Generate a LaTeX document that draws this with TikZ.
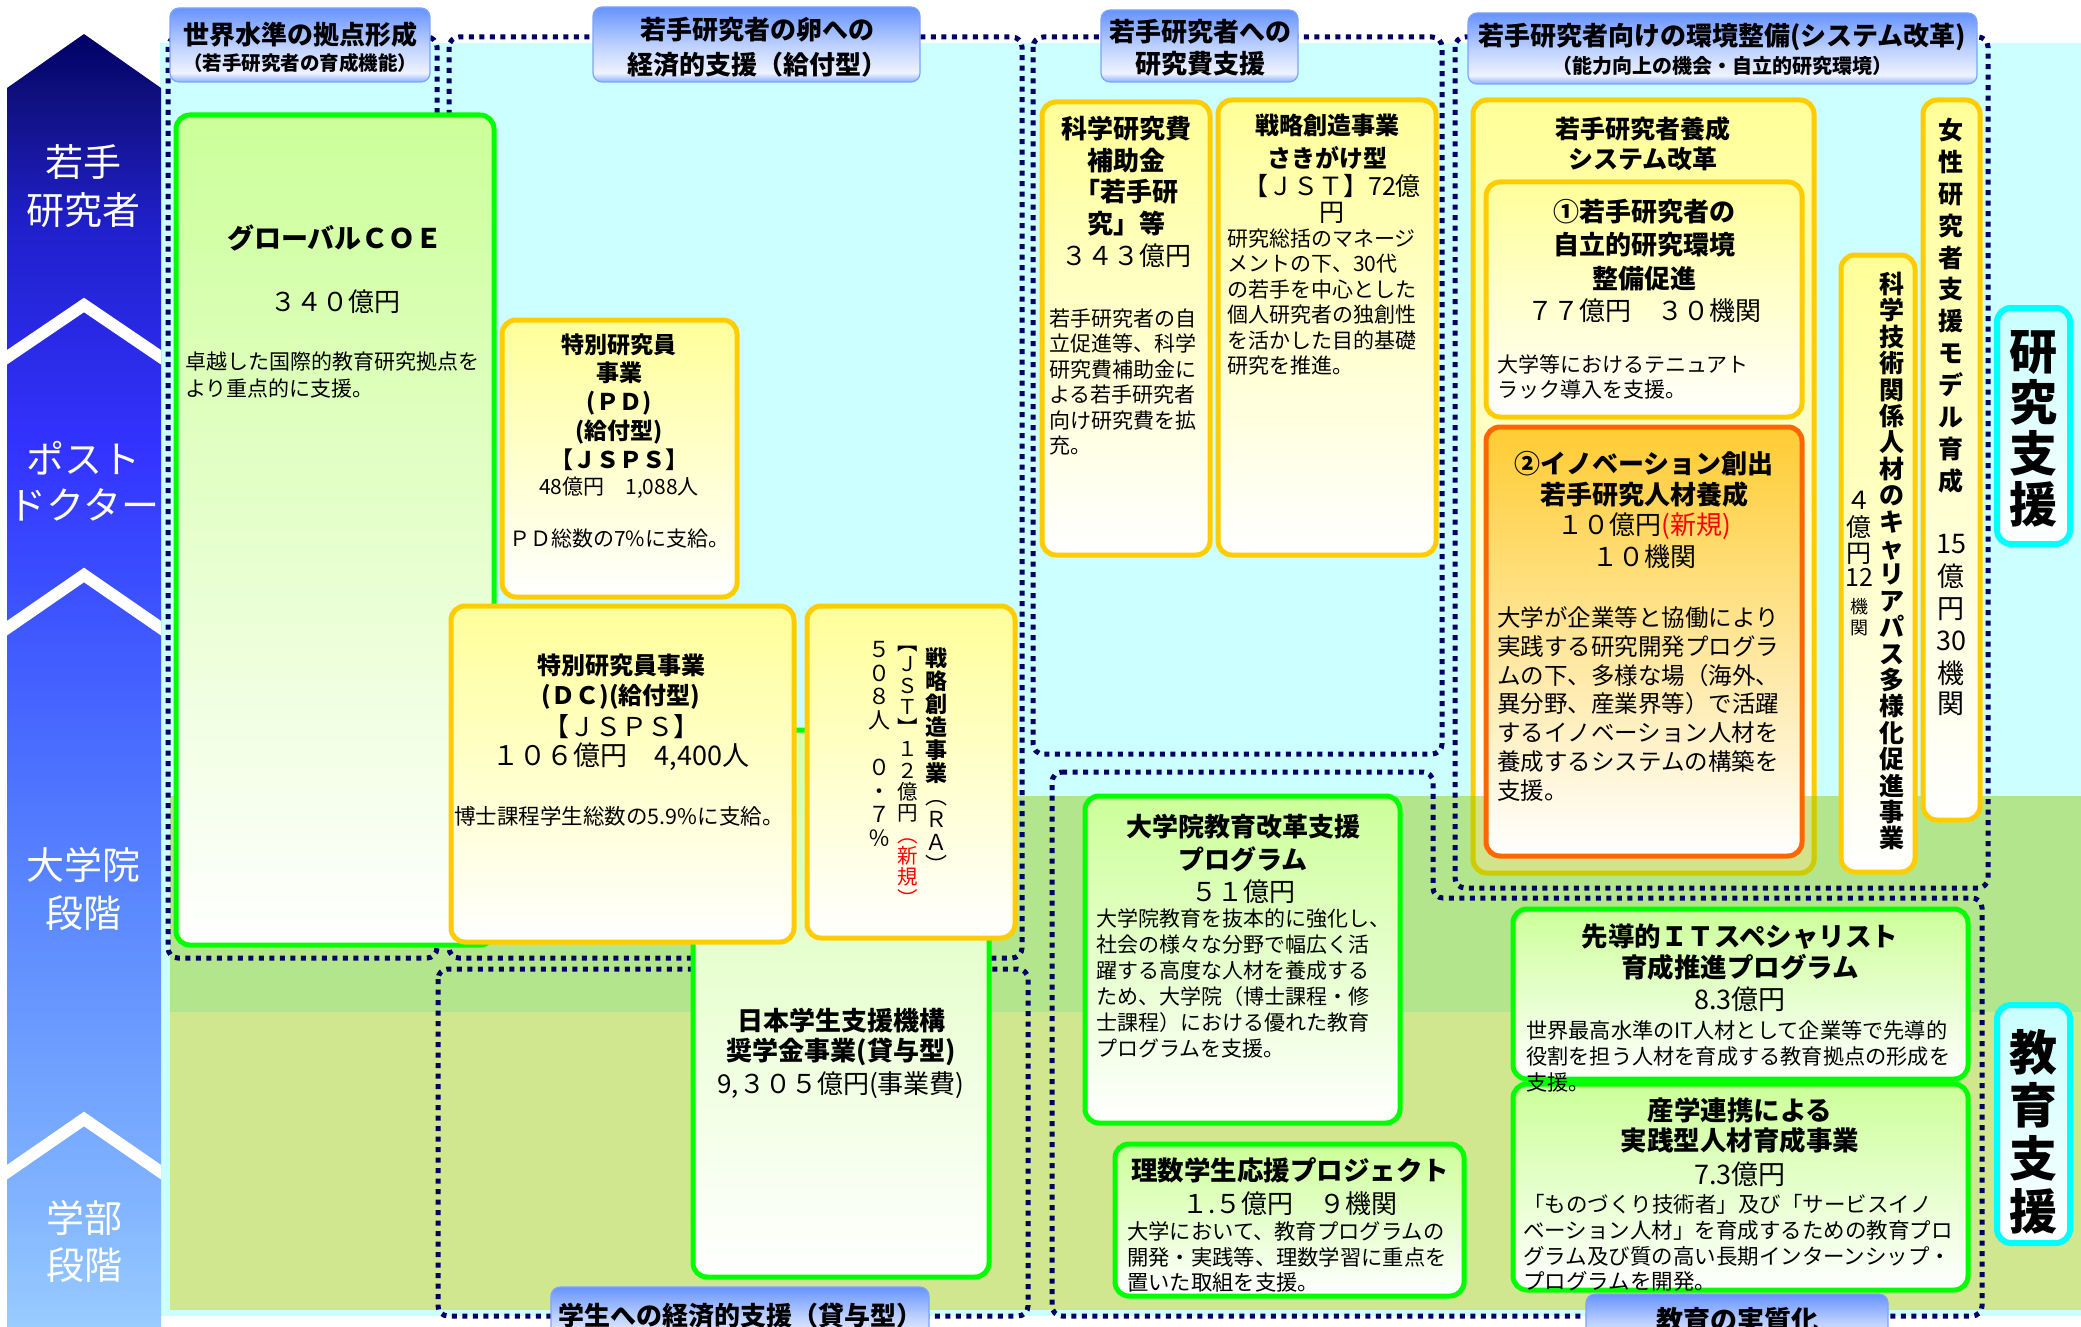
\documentclass[tikz,border=0pt]{standalone}
\usepackage{fontspec}
\setmainfont{Noto Sans CJK JP}
\definecolor{navy}{HTML}{000066}
\definecolor{bgcyan}{HTML}{CCFFFF}
\definecolor{bggreenA}{HTML}{B3E68C}
\definecolor{bggreenB}{HTML}{D1E78F}
\definecolor{boxgreen}{HTML}{00FF00}
\definecolor{lgreen}{HTML}{CCFF99}
\definecolor{boxyellow}{HTML}{FFCC00}
\definecolor{lyellow}{HTML}{FFFF99}
\definecolor{boxorange}{HTML}{FF6600}
\definecolor{lorange}{HTML}{FFCC33}
\definecolor{boxcyan}{HTML}{00FFFF}
\definecolor{lcyan}{HTML}{C8FFFF}
\definecolor{oliveA}{HTML}{CCCC00}
\definecolor{oliveB}{HTML}{D3E38C}
\definecolor{tabedge}{HTML}{7DA3FF}
\definecolor{arA}{HTML}{99CCFF}
\definecolor{arB}{HTML}{80B3FF}
\definecolor{arC}{HTML}{5A88FF}
\definecolor{arD}{HTML}{3D55FF}
\definecolor{arE}{HTML}{3333FF}
\definecolor{arF}{HTML}{2020CC}
\definecolor{arG}{HTML}{101080}
\definecolor{arH}{HTML}{000066}
\definecolor{tbA}{HTML}{8CB0FF}
\definecolor{tbB}{HTML}{EEF3FF}
\definecolor{tbC}{HTML}{BCD0FF}
\definecolor{tbD}{HTML}{6693FF}
\pgfdeclareverticalshading{arrowshade}{100bp}{color(0bp)=(arA); color(25bp)=(arA); color(30bp)=(arB); color(41.5bp)=(arC); color(52.5bp)=(arD); color(59bp)=(arE); color(67.5bp)=(arF); color(72.5bp)=(arG); color(75bp)=(arH); color(100bp)=(arH)}
\pgfdeclareverticalshading{tabshade}{100bp}{color(0bp)=(tbA); color(25bp)=(tbA); color(31bp)=(tbB); color(50bp)=(tbC); color(75bp)=(tbD); color(100bp)=(tbD)}
\newcommand{\jfs}[2]{\fontsize{#1}{#2}\selectfont}
\begin{document}
\begin{tikzpicture}[x=1pt,y=-1pt,
  dotfr/.style={draw=navy, line width=5pt, dash pattern=on 5pt off 5.5pt, rounded corners=10pt},
  gbox/.style={draw=boxgreen, line width=5pt, rounded corners=14pt, top color=lgreen, bottom color=white},
  ybox/.style={draw=boxyellow, line width=5pt, rounded corners=14pt, top color=lyellow, bottom color=white},
  obox/.style={draw=boxorange, line width=5pt, rounded corners=14pt, top color=lorange, bottom color=white},
  cbox/.style={draw=boxcyan, line width=6pt, rounded corners=14pt, top color=lcyan, bottom color=white},
  tabx/.style={shade, shading=tabshade, draw=tabedge, line width=1.2pt, rounded corners=9pt},
  tc/.style={inner sep=0pt, align=center, text=black},
  vt/.style={inner sep=0pt, align=center, text=black, text height=0.8em, text depth=0.12em},
  tlft/.style={inner sep=0pt, align=left, text=black, anchor=west}]
\useasboundingbox (0,0) rectangle (2081,1327);
\clip (0,0) rectangle (2081,1327);
% backgrounds
\fill[white] (0,0) rectangle (2081,1327);
\fill[bgcyan] (160,43) rectangle (2081,1316);
\fill[bggreenA] (170,796) rectangle (2081,1012);
\fill[bggreenB] (170,1012) rectangle (2081,1310);
% left arrow column
\shade[shading=arrowshade] (7,88) -- (84,34) -- (161,88) -- (161,1327) -- (7,1327) -- cycle;
\begin{scope}
\clip (7,0) rectangle (161,1327);
\draw[white, line width=12pt, line join=miter] (0,362) -- (84,305) -- (168,362);
\draw[white, line width=12pt, line join=miter] (0,633) -- (84,575) -- (168,633);
\draw[white, line width=12pt, line join=miter] (0,1177) -- (84,1119) -- (168,1177);
\end{scope}
\node[tc, text=white, font=\jfs{38}{48}] (labA) at (84,186) {若手\\研究者};
\node[tc, text=white, font=\jfs{38}{46}] (labB) at (84,481) {ポスト\\ドクター};
\node[tc, text=white, font=\jfs{38}{48}] (labC) at (84,889) {大学院\\段階};
\node[tc, text=white, font=\jfs{38}{47}] (labD) at (84,1241) {学部\\段階};
% dotted frames
\draw[dotfr] (168,37) rectangle (437,958);
\draw[dotfr] (449,37) rectangle (1022,958);
\draw[dotfr] (438,969) rectangle (1028,1316);
\draw[dotfr] (1033,37) rectangle (1442,754);
\draw[dotfr] (1455,37) rectangle (1988,888);
\draw[dotfr] (1052,772) -- (1433,772) -- (1433,898) -- (1982,898) -- (1982,1316) -- (1052,1316) -- cycle;
% boxes left
\path[gbox] (176,115) rectangle (494,945);
\path[gbox, top color=lgreen!80!white] (693,730) rectangle (989,1277);
\path[ybox] (502,320) rectangle (737,597);
\path[ybox] (451,606) rectangle (794,942);
\path[ybox] (807,606) rectangle (1015,938);
% research funding boxes
\path[ybox] (1042,102) rectangle (1210,555);
\path[ybox] (1218,100) rectangle (1436,555);
% system reform
\path[ybox] (1473,100) rectangle (1814,873);
\begin{scope}
\clip (1460,796) rectangle (1830,900);
\path[draw=oliveA, fill=oliveB, line width=5pt, rounded corners=14pt] (1473,100) rectangle (1814,873);
\end{scope}
\path[ybox] (1486,182) rectangle (1802,417);
\path[obox] (1486,427) rectangle (1802,856);
\path[ybox] (1841,255) rectangle (1915,872);
\path[ybox] (1923,100) rectangle (1980,820);
% education boxes
\path[gbox] (1085,796) rectangle (1400,1123);
\path[gbox] (1115,1144) rectangle (1464,1296);
\path[gbox] (1513,909) rectangle (1968,1079);
\path[gbox] (1513,1084) rectangle (1968,1290);
% side labels
\path[cbox] (1997,308) rectangle (2070,544);
\path[cbox] (1997,1005) rectangle (2070,1243);
% tabs
\path[tabx] (170,8) rectangle (430,82);
\path[tabx] (593,7) rectangle (920,82);
\path[tabx] (1101,10) rectangle (1298,82);
\path[tabx] (1468,13) rectangle (1977,84);
\path[tabx] (551,1287) rectangle (929,1345);
\path[tabx] (1586,1294) rectangle (1888,1350);
% tab texts
\node[tc, font=\jfs{26}{30}\bfseries] (taA) at (300,35) {世界水準の拠点形成};
\node[tc, font=\jfs{19.5}{24}\bfseries] (taB) at (300,63) {（若手研究者の育成機能）};
\node[tc, font=\jfs{26}{35}\bfseries] (tbx) at (757,47) {若手研究者の卵への\\経済的支援（給付型）};
\node[tc, font=\jfs{26}{32}\bfseries] (tcx) at (1200,48) {若手研究者への\\研究費支援};
\node[tc, font=\jfs{26}{30}\bfseries] (tdA) at (1722,37) {若手研究者向けの環境整備(システム改革)};
\node[tc, font=\jfs{20}{24}\bfseries] (tdB) at (1722,66) {（能力向上の機会・自立的研究環境）};
\node[tc, font=\jfs{26}{30}\bfseries] (tex) at (740,1316) {学生への経済的支援（貸与型）};
\node[tc, font=\jfs{27}{30}\bfseries] (tfx) at (1737,1320) {教育の実質化};
% GCOE
\node[tc, font=\jfs{27}{30}\bfseries] (gcA) at (335,238) {グローバルＣＯＥ};
\node[tc, font=\jfs{26}{30}] (gcB) at (335,302) {３４０億円};
\node[tlft, font=\jfs{21}{26.7}] (gcC) at (185,375) {卓越した国際的教育研究拠点を\\より重点的に支援。};
% PD
\node[tc, font=\jfs{23}{28.8}\bfseries] (pdA) at (619,402) {特別研究員\\事業\\(ＰＤ)\\(給付型)\\【ＪＳＰＳ】};
\node[tc, font=\jfs{21}{26}] (pdB) at (619,488) {48億円　1,088人};
\node[tc, font=\jfs{21}{26}] (pdC) at (619,539) {ＰＤ総数の7\%に支給。};
% DC
\node[tc, font=\jfs{24}{30}\bfseries] (dcA) at (621,682) {特別研究員事業\\(ＤＣ)(給付型)};
\node[tc, font=\jfs{26}{30}] (dcJ) at (621,727) {【ＪＳＰＳ】};
\node[tc, font=\jfs{27}{32}] (dcB) at (621,757) {１０６億円　4,400人};
\node[tc, font=\jfs{21.5}{26}] (dcC) at (619,816) {博士課程学生総数の5.9\%に支給。};
% RA vertical
\foreach \c [count=\i from 0] in {戦,略,創,造,事,業}
  \node[vt, font=\jfs{22}{23}\bfseries] (raA\i) at (936,663+\i*23) {\c};
\foreach \c [count=\i from 6] in {︵,Ｒ,Ａ,︶}
  \node[vt, font=\jfs{22}{23}] (raA\i) at (936,663+\i*23) {\c};
\foreach \c [count=\i from 0] in {︻,Ｊ,Ｓ,Ｔ,︼,１,２,億,円}
  \node[vt, font=\jfs{20.5}{21}] (raB\i) at (908,647+\i*21.3) {\c};
\foreach \c [count=\i from 9] in {︵,新,規,︶}
  \node[vt, font=\jfs{20.5}{21}, text=red] (raB\i) at (908,647+\i*21.3) {\c};
\foreach \c [count=\i from 0] in {５,０,８,人,　,０,・,７,％}
  \node[vt, font=\jfs{22}{23}] (raC\i) at (879,654+\i*23.6) {\c};
% JASSO
\node[tc, font=\jfs{26}{30}\bfseries] (jsA) at (841,1037) {日本学生支援機構\\奨学金事業(貸与型)};
\node[tc, font=\jfs{26}{30}] (jsB) at (841,1085) {9,３０５億円(事業費)};
% kakenhi
\node[tc, font=\jfs{26}{31.7}\bfseries] (kkA) at (1126,176) {科学研究費\\補助金\\「若手研\\究」等};
\node[tc, font=\jfs{26}{30}] (kkB) at (1126,256) {３４３億円};
\node[tlft, font=\jfs{21}{25.5}] (kkC) at (1049,382) {若手研究者の自\\立促進等、科学\\研究費補助金に\\よる若手研究者\\向け研究費を拡\\充。};
% sakigake
\node[tc, font=\jfs{24}{33}\bfseries] (skA) at (1327,142) {戦略創造事業\\さきがけ型};
\node[tc, font=\jfs{25}{26}] (skB) at (1332,199) {【ＪＳＴ】72億\\円};
\node[tlft, font=\jfs{21}{25.4}] (skC) at (1227,302) {研究総括のマネージ\\メントの下、30代\\の若手を中心とした\\個人研究者の独創性\\を活かした目的基礎\\研究を推進。};
% system reform
\node[tc, font=\jfs{25}{30}\bfseries] (ysA) at (1643,144) {若手研究者養成\\システム改革};
\node[tc, font=\jfs{26}{33.5}\bfseries] (rAa) at (1644,245) {①若手研究者の\\自立的研究環境\\整備促進};
\node[tc, font=\jfs{26}{30}] (rAb) at (1644,311) {７７億円　３０機関};
\node[tlft, font=\jfs{21}{25}] (rAc) at (1497,377) {大学等におけるテニュアト\\ラック導入を支援。};
\node[tc, font=\jfs{26}{31}\bfseries] (rBa) at (1644,479) {②イノベーション創出\\若手研究人材養成};
\node[tc, font=\jfs{26}{32}] (rBb) at (1644,541) {１０億円{\color{red}(新規)}\\１０機関};
\node[tlft, font=\jfs{23.5}{28.7}] (rBc) at (1497,704) {大学が企業等と協働により\\実践する研究開発プログラ\\ムの下、多様な場（海外、\\異分野、産業界等）で活躍\\するイノベーション人材を\\養成するシステムの構築を\\支援。};
% career path vertical
\foreach \c [count=\i from 0] in {科,学,技,術,関,係,人,材,の,キ,ャ,リ,ア,パ,ス,多,様,化,促,進,事,業}
  \node[vt, font=\jfs{25}{30}\bfseries] (kg\i) at (1892,290+\i*26.4) {\c};
\foreach \c/\yy/\s [count=\i] in {４/506/25,億/533/25,円/559/25,12/583/25,機/610/18,関/631/18}
  \node[vt, font=\jfs{\s}{\s}] (kn\i) at (1859,\yy) {\c};
% women researchers vertical
\foreach \c [count=\i from 0] in {女,性,研,究,者,支,援,モ,デ,ル,育,成}
  \node[vt, font=\jfs{25}{30}\bfseries] (jo\i) at (1951,136+\i*31.9) {\c};
\foreach \c/\yy [count=\i] in {15/550,億/583,円/615,30/647,機/680,関/710}
  \node[vt, font=\jfs{27}{30}] (jn\i) at (1951,\yy) {\c};
% side labels
\foreach \c [count=\i from 0] in {研,究,支,援}
  \node[vt, font=\jfs{48}{52}\bfseries] (ks\i) at (2033,366+\i*51) {\c};
\foreach \c [count=\i from 0] in {教,育,支,援}
  \node[vt, font=\jfs{48}{52}\bfseries] (es\i) at (2033,1067+\i*53) {\c};
% graduate education
\node[tc, font=\jfs{26}{33}\bfseries] (dgA) at (1243,843) {大学院教育改革支援\\プログラム};
\node[tc, font=\jfs{26}{30}] (dgB) at (1243,892) {５１億円};
\node[tlft, font=\jfs{21}{26}] (dgC) at (1096,983) {大学院教育を抜本的に強化し、\\社会の様々な分野で幅広く活\\躍する高度な人材を養成する\\ため、大学院（博士課程・修\\士課程）における優れた教育\\プログラムを支援。};
% science students
\node[tc, font=\jfs{26.5}{30}\bfseries] (rsA) at (1290,1170) {理数学生応援プロジェクト};
\node[tc, font=\jfs{26}{30}] (rsB) at (1290,1204) {１.５億円　９機関};
\node[tlft, font=\jfs{21.3}{25.5}] (rsC) at (1127,1257) {大学において、教育プログラムの\\開発・実践等、理数学習に重点を\\置いた取組を支援。};
% IT specialist
\node[tc, font=\jfs{26.5}{31}\bfseries] (itA) at (1740,952) {先導的ＩＴスペシャリスト\\育成推進プログラム};
\node[tc, font=\jfs{27}{30}] (itB) at (1740,999) {8.3億円};
\node[tlft, font=\jfs{21.2}{26}] (itC) at (1526,1056) {世界最高水準のIT人材として企業等で先導的\\役割を担う人材を育成する教育拠点の形成を\\支援。};
% industry-academia
\node[tc, font=\jfs{26.5}{30}\bfseries] (sgA) at (1740,1126) {産学連携による\\実践型人材育成事業};
\node[tc, font=\jfs{27}{30}] (sgB) at (1740,1174) {7.3億円};
\node[tlft, font=\jfs{21.5}{25.7}] (sgC) at (1523,1243) {「ものづくり技術者」及び「サービスイノ\\ベーション人材」を育成するための教育プロ\\グラム及び質の高い長期インターンシップ・\\プログラムを開発。};
\end{tikzpicture}
\end{document}
